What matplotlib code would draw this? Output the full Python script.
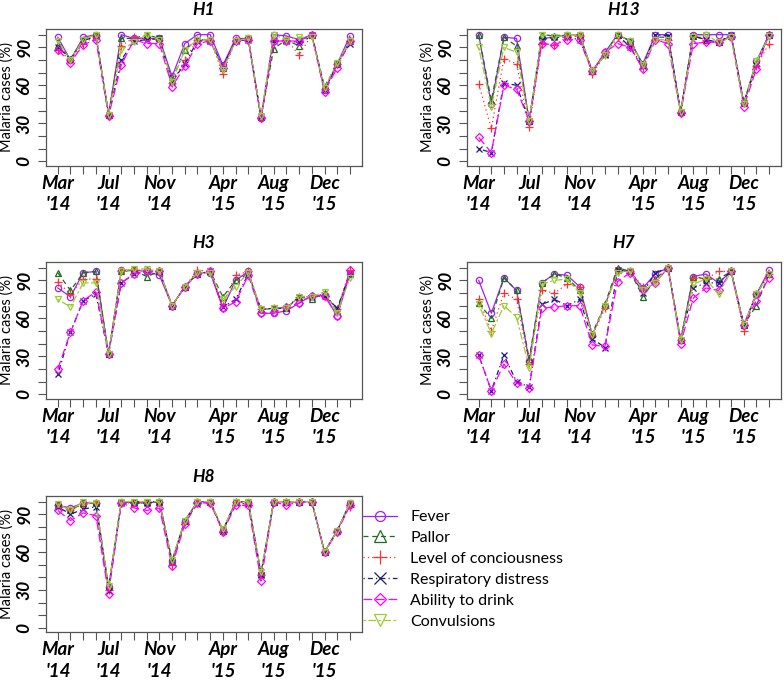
import matplotlib
matplotlib.use('Agg')
import matplotlib.pyplot as plt
from matplotlib.lines import Line2D

plt.rcParams['font.family'] = ['Lato', 'DejaVu Sans']

months = ["Mar '14", "Apr '14", "May '14", "Jun '14", "Jul '14", "Aug '14", "Sep '14", "Oct '14",
          "Nov '14", "Dec '14", "Jan '15", "Feb '15", "Mar '15", "Apr '15", "May '15", "Jun '15",
          "Jul '15", "Aug '15", "Sep '15", "Oct '15", "Nov '15", "Dec '15", "Jan '16", "Feb '16"]
labeled_months = ["Mar '14", "Jul '14", "Nov '14", "Apr '15", "Aug '15", "Dec '15"]

series_names = ["Fever", "Pallor", "Level of conciousness", "Respiratory distress",
                "Ability to drink", "Convulsions"]

h1_fever  = [98, 80, 98, 100, 37, 100, 97, 97, 97, 67, 93, 100, 100, 76, 97, 97, 34, 100, 99, 96, 100, 56, 77, 99]
h1_pallor = [92, 81, 96, 100, 37, 97, 97, 100, 97, 64, 88, 96, 96, 74, 96, 97, 35, 89, 96, 91, 100, 59, 77, 95]
h1_level  = [88, 80, 93, 99, 37, 91, 98, 97, 96, 62, 80, 96, 96, 69, 96, 96, 35, 95, 96, 84, 100, 57, 77, 95]
h1_resp   = [90, 81, 95, 99, 37, 80, 95, 96, 97, 63, 77, 95, 95, 75, 95, 96, 35, 95, 95, 94, 100, 56, 77, 93]
h1_drink  = [88, 78, 92, 96, 36, 76, 96, 93, 93, 59, 75, 93, 95, 74, 95, 96, 34, 95, 95, 95, 100, 55, 74, 95]
h1_conv   = [95, 80, 96, 100, 37, 88, 94, 100, 96, 63, 88, 96, 96, 72, 95, 97, 36, 100, 96, 98, 98, 58, 78, 95]

h13_fever  = [100, 45, 98, 97, 32, 97, 98, 100, 100, 71, 86, 100, 95, 77, 100, 100, 39, 100, 100, 100, 100, 46, 79, 100]
h13_pallor = [100, 48, 98, 91, 32, 100, 99, 100, 100, 71, 85, 100, 95, 76, 98, 98, 39, 99, 96, 94, 99, 46, 78, 100]
h13_level  = [61, 26, 81, 77, 27, 93, 92, 98, 99, 69, 84, 98, 90, 74, 96, 96, 39, 99, 96, 94, 99, 46, 75, 93]
h13_resp   = [10, 7, 62, 60, 32, 96, 98, 98, 96, 71, 84, 100, 90, 75, 100, 99, 39, 99, 96, 94, 100, 46, 76, 100]
h13_drink  = [19, 7, 60, 57, 32, 93, 92, 96, 96, 71, 86, 93, 90, 73, 96, 93, 38, 93, 94, 94, 98, 43, 73, 100]
h13_conv   = [90, 43, 90, 86, 32, 100, 98, 100, 100, 71, 84, 100, 95, 76, 96, 96, 39, 98, 100, 94, 98, 45, 79, 99]

h3_fever  = [84, 77, 96, 97, 32, 98, 98, 97, 94, 70, 85, 96, 96, 68, 90, 97, 64, 64, 66, 72, 78, 78, 62, 95]
h3_pallor = [96, 82, 96, 97, 32, 97, 98, 93, 97, 70, 85, 95, 97, 77, 90, 95, 67, 68, 68, 77, 75, 80, 66, 96]
h3_level  = [89, 79, 91, 91, 32, 97, 98, 98, 97, 70, 85, 98, 97, 71, 94, 97, 67, 68, 69, 77, 78, 78, 67, 98]
h3_resp   = [16, 49, 74, 79, 32, 88, 95, 97, 97, 70, 85, 95, 97, 69, 75, 95, 67, 68, 68, 77, 77, 78, 68, 95]
h3_drink  = [20, 49, 74, 81, 32, 88, 95, 97, 97, 70, 85, 95, 97, 68, 73, 94, 64, 65, 69, 72, 78, 78, 62, 98]
h3_conv   = [75, 69, 88, 88, 32, 97, 99, 99, 97, 70, 85, 96, 96, 75, 85, 96, 67, 68, 68, 77, 77, 81, 64, 92]

h7_fever  = [90, 64, 92, 82, 26, 88, 95, 94, 85, 47, 70, 98, 97, 84, 95, 100, 43, 93, 95, 88, 97, 55, 79, 98]
h7_pallor = [72, 60, 92, 82, 28, 88, 95, 92, 82, 48, 71, 100, 97, 77, 91, 100, 43, 93, 91, 91, 97, 55, 70, 95]
h7_level  = [75, 50, 80, 75, 24, 82, 80, 87, 85, 46, 68, 98, 97, 85, 90, 100, 43, 92, 91, 97, 97, 50, 79, 95]
h7_resp   = [31, 3, 31, 10, 6, 71, 75, 70, 75, 44, 37, 98, 97, 80, 96, 100, 43, 84, 88, 88, 97, 55, 79, 95]
h7_drink  = [31, 3, 24, 9, 5, 68, 69, 70, 70, 39, 38, 89, 96, 82, 88, 100, 40, 76, 84, 82, 97, 55, 74, 92]
h7_conv   = [71, 48, 70, 61, 21, 87, 90, 91, 80, 47, 70, 96, 97, 82, 88, 100, 43, 87, 91, 79, 97, 55, 79, 95]

h8_fever  = [97, 95, 99, 99, 32, 100, 99, 99, 100, 53, 85, 100, 100, 77, 100, 100, 43, 100, 100, 100, 100, 60, 77, 99]
h8_pallor = [97, 93, 99, 99, 32, 100, 100, 100, 100, 53, 85, 100, 100, 77, 100, 100, 43, 100, 100, 100, 100, 60, 77, 99]
h8_level  = [97, 93, 98, 99, 30, 99, 99, 99, 100, 50, 84, 100, 99, 77, 100, 99, 42, 100, 100, 100, 100, 60, 77, 96]
h8_resp   = [96, 90, 94, 96, 29, 99, 99, 99, 100, 52, 85, 98, 100, 77, 99, 98, 42, 100, 100, 100, 100, 60, 77, 98]
h8_drink  = [93, 85, 91, 89, 27, 99, 95, 93, 95, 49, 82, 99, 99, 76, 97, 97, 37, 100, 97, 100, 100, 60, 76, 97]
h8_conv   = [98, 93, 100, 99, 33, 100, 100, 100, 100, 54, 85, 100, 100, 78, 100, 100, 44, 100, 100, 100, 100, 60, 77, 99]

panels = [
    ("H1", [h1_fever, h1_pallor, h1_level, h1_resp, h1_drink, h1_conv]),
    ("H13", [h13_fever, h13_pallor, h13_level, h13_resp, h13_drink, h13_conv]),
    ("H3", [h3_fever, h3_pallor, h3_level, h3_resp, h3_drink, h3_conv]),
    ("H7", [h7_fever, h7_pallor, h7_level, h7_resp, h7_drink, h7_conv]),
    ("H8", [h8_fever, h8_pallor, h8_level, h8_resp, h8_drink, h8_conv]),
]

colors = ['#A020F0', '#1E6B1E', '#FF3030', '#1A1A80', '#FF00FF', '#9ACD32']
markers = ['o', '^', '+', 'x', 'D', 'v']
msizes = [4.5, 5, 6, 5, 4, 5]
styles = ['-', (0, (4, 3)), (0, (1, 2.5)), (0, (1, 2.5, 4, 2.5)), (0, (7, 3)), (0, (2, 2, 6, 2))]

W, H = 784, 680
fig = plt.figure(figsize=(W / 100, H / 100), dpi=100)

# panel boxes in pixels: left, top, right, bottom
boxes = [
    (45.7, 28.7, 362, 166),
    (466.7, 28.7, 781, 166),
    (45.7, 261.7, 362, 399),
    (466.7, 261.7, 781, 399),
    (45.7, 495.7, 362, 632.3),
]

spine_col = '#555555'
x = list(range(len(months)))
label_pos = [months.index(m) for m in labeled_months]
label_txt = [m.replace(' ', '\n') for m in labeled_months]

for (title, data), (l, t, r, b) in zip(panels, boxes):
    ax = fig.add_axes([l / W, 1 - b / H, (r - l) / W, (b - t) / H])
    for k in range(len(series_names)):
        ax.plot(x, data[k], color=colors[k], linestyle=styles[k], linewidth=0.9,
                marker=markers[k], markersize=msizes[k], markerfacecolor='none',
                markeredgecolor=colors[k], markeredgewidth=0.9)
    ax.set_xlim(-0.95, 23.95)
    ax.set_ylim(-3.6, 104.7)
    ax.set_xticks(x, minor=True)
    ax.set_xticks(label_pos)
    ax.set_xticklabels(label_txt, fontsize=13.5, fontweight='bold', fontstyle='italic',
                       linespacing=1.3)
    ax.set_yticks([0, 30, 60, 90])
    ax.set_yticks(range(0, 101, 10), minor=True)
    ax.set_yticklabels(['0', '30', '60', '90'], rotation=90, va='center',
                       fontsize=12.5, fontweight='bold', fontstyle='italic')
    ax.tick_params(axis='both', which='both', direction='out', length=5.5,
                   width=0.8, color=spine_col)
    ax.tick_params(axis='x', which='major', pad=1)
    ax.tick_params(axis='y', which='major', pad=4)
    for s in ax.spines.values():
        s.set_color(spine_col)
        s.set_linewidth(0.9)
    ax.set_title(title, fontsize=12.5, fontweight='bold', fontstyle='italic', pad=10)
    ax.set_ylabel('Malaria cases (%)', fontsize=10.5, labelpad=2)

handles = [Line2D([0], [0], color=colors[k], linestyle=styles[k], linewidth=0.9,
                  marker=markers[k], markersize=msizes[k] * 1.6, markerfacecolor='none',
                  markeredgecolor=colors[k], markeredgewidth=0.9)
           for k in range(len(series_names))]
fig.legend(handles, series_names, loc='upper left', bbox_to_anchor=(363 / W, 1 - 510 / H),
           frameon=False, fontsize=11.5, handlelength=2.1, handletextpad=0.85,
           labelspacing=0.42, borderpad=0, borderaxespad=0)

fig.savefig('out.png', dpi=100)
